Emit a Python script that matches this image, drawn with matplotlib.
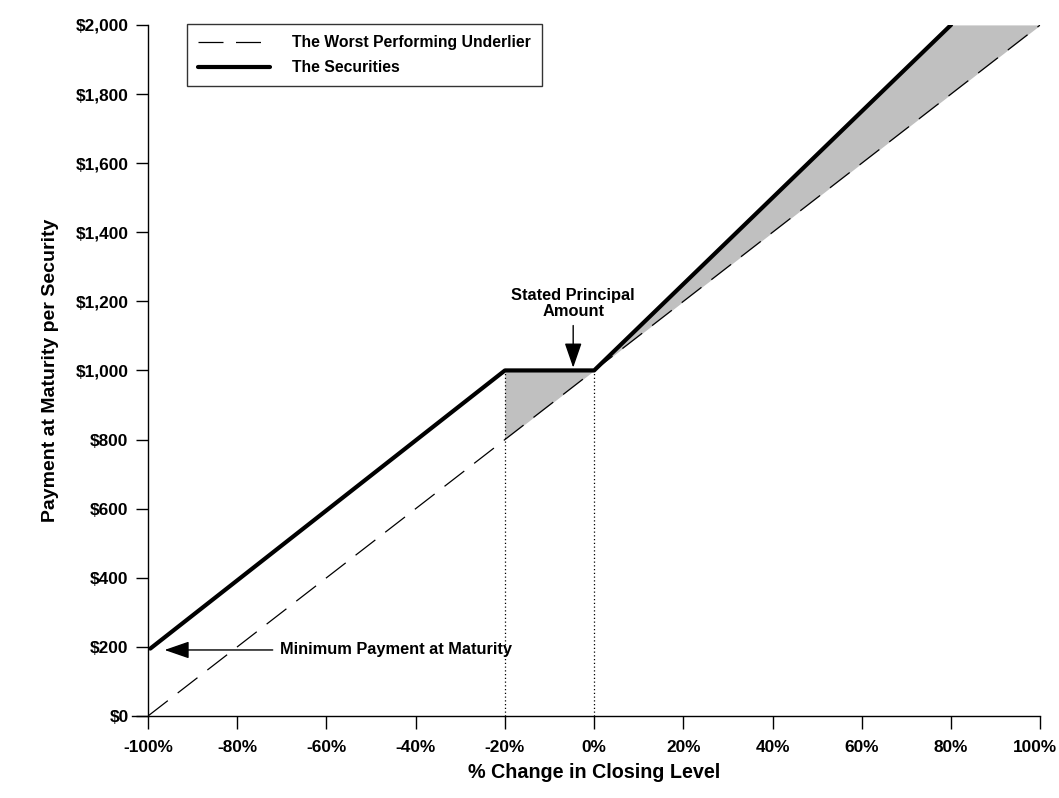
import numpy as np
import matplotlib.pyplot as plt
import matplotlib.transforms as mtransforms

plt.rcParams['font.family'] = ['Liberation Sans', 'DejaVu Sans']
plt.rcParams['font.weight'] = 'bold'

# data
pct_change = np.array([-100, -80, -60, -40, -20, 0, 20, 40, 60, 80, 100])
underlier_x = [-100, 100]
underlier_y = [0, 2000]
securities_x = [-99.5, -20, 0, 80]
securities_y = [195, 1000, 1000, 2000]
shade_x = [-20, 0, 80, 100]
shade_top = [1000, 1000, 2000, 2000]
shade_bottom = [800, 1000, 1800, 2000]
y_ticks = [0, 200, 400, 600, 800, 1000, 1200, 1400, 1600, 1800, 2000]

fig = plt.figure(figsize=(10.59, 7.98), dpi=100)
ax = fig.add_axes([0.1398, 0.1028, 0.8425, 0.866])

ax.fill_between(shade_x, shade_bottom, shade_top, color='#c0c0c0', lw=0, zorder=1)
ax.plot(underlier_x, underlier_y, color='black', lw=0.9, dashes=(20, 10),
        label='The Worst Performing Underlier', zorder=2)
ax.plot(securities_x, securities_y, color='black', lw=3,
        solid_capstyle='round', label='The Securities', zorder=3)

# dotted guides at -20% and 0%
ax.plot([-20, -20], [0, 1000], color='black', lw=0.9, ls=(0, (1, 2)), zorder=2)
ax.plot([0, 0], [0, 1000], color='black', lw=0.9, ls=(0, (1, 2)), zorder=2)

arrow = dict(arrowstyle='-|>,head_length=1.3,head_width=0.45',
             color='black', lw=1, shrinkA=3, shrinkB=0)
ax.annotate('Stated Principal\nAmount', xy=(-4.7, 1008), xytext=(-4.7, 1150),
            ha='center', va='bottom', fontsize=11.8, fontweight='bold',
            linespacing=1.05, arrowprops=arrow)
ax.annotate('Minimum Payment at Maturity', xy=(-96.3, 191), xytext=(-70.5, 191),
            ha='left', va='center', fontsize=11.8, fontweight='bold',
            arrowprops=arrow)

ax.set_xlim(-100, 100)
ax.set_ylim(0, 2000)
ax.set_xticks(pct_change)
ax.set_xticklabels([f'{v}%' for v in pct_change])
ax.set_yticks(y_ticks)
ax.set_yticklabels([f'${v:,}' for v in y_ticks])
ax.tick_params(axis='both', direction='out', length=9, width=1, labelsize=12.4, pad=5)
ax.tick_params(axis='x', pad=8)
for lab in ax.get_xticklabels() + ax.get_yticklabels():
    lab.set_fontweight('bold')

# last x label sits a little inside the edge, as in the original
last = ax.get_xticklabels()[-1]
last.set_transform(last.get_transform() +
                   mtransforms.ScaledTranslation(-5 / 100, 0, fig.dpi_scale_trans))

ax.spines['top'].set_visible(False)
ax.spines['right'].set_visible(False)
ax.spines['left'].set_linewidth(1)
ax.spines['bottom'].set_linewidth(1)
ax.spines['bottom'].set_bounds(-103.5, 100)

ax.set_xlabel('% Change in Closing Level', fontsize=14.2, fontweight='bold', labelpad=6)
ax.set_ylabel('Payment at Maturity per Security', fontsize=14, fontweight='bold', labelpad=12)

leg = ax.legend(loc='upper left', bbox_to_anchor=(0.0435, 1.001), fontsize=11.3,
                frameon=True, fancybox=False, edgecolor='black', handlelength=4.6,
                borderpad=0.7, handletextpad=1.4, labelspacing=0.65, borderaxespad=0)
leg.get_frame().set_linewidth(1)
for t in leg.get_texts():
    t.set_fontweight('bold')

fig.savefig('out.png', dpi=100)
